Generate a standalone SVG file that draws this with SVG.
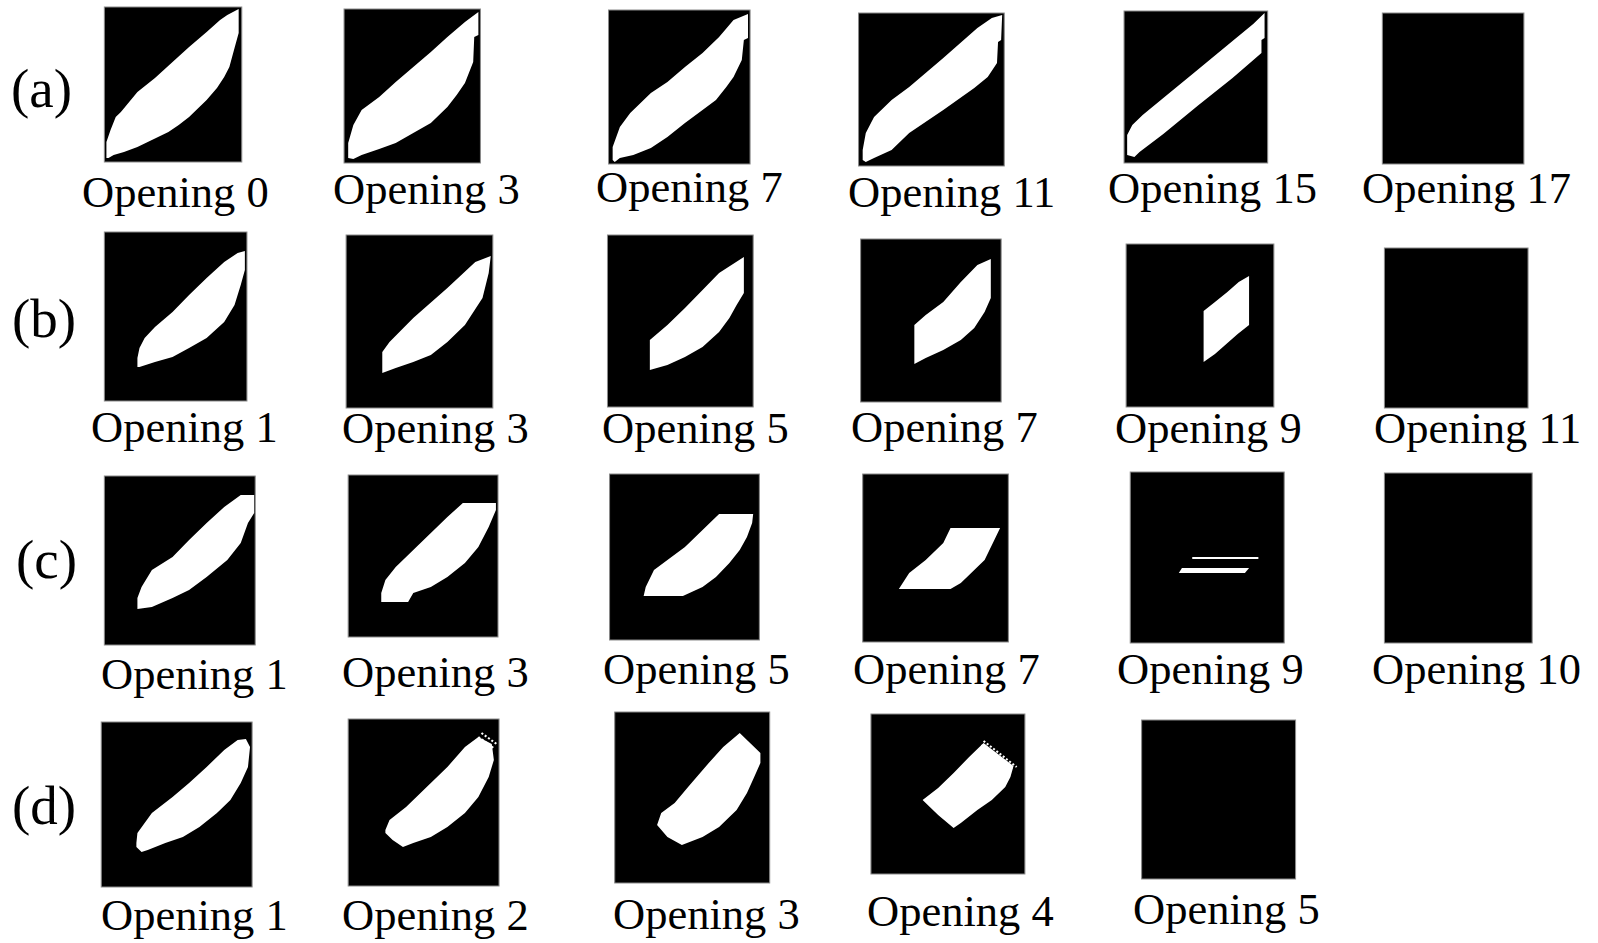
<svg xmlns="http://www.w3.org/2000/svg" width="1598" height="943" viewBox="0 0 1598 943">
<style>
.bx{fill:#000;stroke:#8a8a8a;stroke-width:1}
.sh{fill:#fff}
.lb{font-family:"Liberation Serif","Times New Roman",serif;font-size:44.5px;fill:#000}
.rl{font-family:"Liberation Serif","Times New Roman",serif;font-size:55px;fill:#000}
.chk{fill:none;stroke:#fff;stroke-width:2;stroke-dasharray:2 2}
</style>
<rect width="1598" height="943" fill="#fff"/>
<g id="row-labels">
<text class="rl" x="11" y="107">(a)</text>
<text class="rl" x="12" y="337">(b)</text>
<text class="rl" x="16" y="578">(c)</text>
<text class="rl" x="12" y="824">(d)</text>
</g>
<g id="a1"><g transform="matrix(1.0332 0 0 1 0 0)"><rect class="bx" x="101" y="7" width="133" height="155"/>
<polygon class="sh" points="103,158 103,142 107,130 112,117 117,112 133,92 150,78 167,62 183,47 200,32 213,20 220,15 231,9 231,33 227,48 222,67 217,77 210,88 200,100 193,107 183,117 173,125 163,132 153,137 143,142 133,147 120,152 110,155 105,158"/></g>
<text class="lb" x="82" y="207">Opening 0</text></g>
<g id="a2"><g transform="matrix(1.0332 0 0 1 0 0)"><rect class="bx" x="333" y="9" width="132" height="154"/>
<polygon class="sh" points="337,158 337,143 342,125 350,110 367,97 383,82 400,67 417,52 433,37 450,22 463,12 463,35 459,37 458,62 450,83 442,95 433,107 417,123 400,133 383,143 367,149 350,155 342,159"/></g>
<text class="lb" x="333" y="204">Opening 3</text></g>
<g id="a3"><g transform="matrix(1.0332 0 0 1 -17.6 0)"><rect class="bx" x="606" y="10" width="137" height="154"/>
<polygon class="sh" points="610,160 610,147 617,127 627,113 647,93 663,82 680,67 697,53 713,37 727,20 741,14 741,38 737,40 735,60 727,77 720,87 710,100 697,110 680,123 663,137 647,148 630,155 617,158 612,162"/></g>
<text class="lb" x="596" y="202">Opening 7</text></g>
<g id="a4"><g transform="matrix(1.0332 0 0 1 -17.6 0)"><rect class="bx" x="848" y="13" width="141" height="153"/>
<polygon class="sh" points="852,160 852,150 855,133 863,117 880,100 897,87 930,58 963,28 977,18 987,15 986,40 983,42 982,63 973,77 960,88 930,110 897,133 880,150 863,158 855,162"/></g>
<text class="lb" x="848" y="207">Opening 11</text></g>
<g id="a5"><g transform="matrix(1.0332 0 0 1 -35.2 0)"><rect class="bx" x="1122" y="11" width="139" height="152"/>
<polygon class="sh" points="1125,155 1125,135 1130,125 1140,115 1160,98 1193,70 1227,41 1247,24 1258,13 1258,38 1255,40 1255,53 1227,78 1193,106 1160,134 1137,152 1132,157"/></g>
<text class="lb" x="1108" y="203">Opening 15</text></g>
<g id="a6"><g transform="matrix(1.0332 0 0 1 -35.2 0)"><rect class="bx" x="1372" y="13" width="137" height="151"/></g>
<text class="lb" x="1362" y="203">Opening 17</text></g>

<g id="b1"><g transform="matrix(1.0332 0 0 1 0 0)"><rect class="bx" x="101" y="232" width="138" height="169"/>
<polygon class="sh" points="133,367 133,358 135,348 140,338 150,327 167,312 183,295 200,278 217,262 230,253 237,251 237,270 233,285 227,305 217,322 200,338 183,348 167,357 150,362 135,367"/></g>
<text class="lb" x="91" y="442">Opening 1</text></g>
<g id="b2"><g transform="matrix(1.0332 0 0 1 0 0)"><rect class="bx" x="335" y="235" width="142" height="173"/>
<polygon class="sh" points="370,373 370,352 377,342 400,318 433,288 460,262 475,256 473,273 467,298 450,325 433,342 417,355 400,362 383,368"/></g>
<text class="lb" x="342" y="443">Opening 3</text></g>
<g id="b3"><g transform="matrix(1.0332 0 0 1 -17.6 0)"><rect class="bx" x="605" y="235" width="141" height="172"/>
<polygon class="sh" points="646,370 646,340 663,325 680,308 697,290 713,273 737,257 737,293 730,305 723,318 713,332 697,347 680,357 663,365"/></g>
<text class="lb" x="602" y="443">Opening 5</text></g>
<g id="b4"><g transform="matrix(1.0332 0 0 1 -17.6 0)"><rect class="bx" x="850" y="239" width="136" height="163"/>
<polygon class="sh" points="902,364 902,325 913,315 930,302 947,282 963,265 976,259 976,298 970,312 960,328 947,340 930,350 913,358"/></g>
<text class="lb" x="851" y="442">Opening 7</text></g>
<g id="b5"><g transform="matrix(1.0332 0 0 1 -35.2 0)"><rect class="bx" x="1124" y="244" width="143" height="163"/>
<polygon class="sh" points="1199,362 1199,311 1210,302 1222,292 1233,282 1243,276 1243,325 1232,334 1221,344 1210,354"/></g>
<text class="lb" x="1115" y="443">Opening 9</text></g>
<g id="b6"><g transform="matrix(1.0332 0 0 1 -35.2 0)"><rect class="bx" x="1374" y="248" width="139" height="160"/></g>
<text class="lb" x="1374" y="443">Opening 11</text></g>

<g id="c1"><g transform="matrix(1.0332 0 0 1 0 0)"><rect class="bx" x="101" y="476" width="146" height="169"/>
<polygon class="sh" points="133,609 133,598 137,587 147,570 167,557 183,540 200,523 217,507 233,495 246,495 246,513 240,523 233,543 220,560 200,577 183,590 167,598 147,607"/></g>
<text class="lb" x="101" y="689">Opening 1</text></g>
<g id="c2"><g transform="matrix(1.0332 0 0 1 0 0)"><rect class="bx" x="337" y="475" width="145" height="162"/>
<polygon class="sh" points="369,602 369,593 373,580 383,567 400,550 417,533 433,517 448,503 480,503 480,510 473,527 463,547 450,563 433,577 417,587 400,593 395,602"/></g>
<text class="lb" x="342" y="687">Opening 3</text></g>
<g id="c3"><g transform="matrix(1.0332 0 0 1 -17.6 0)"><rect class="bx" x="607" y="474" width="145" height="166"/>
<polygon class="sh" points="640,596 642,587 650,570 663,560 680,547 697,530 713,514 746,514 745,523 740,537 733,550 723,563 710,577 697,587 678,596"/></g>
<text class="lb" x="603" y="684">Opening 5</text></g>
<g id="c4"><g transform="matrix(1.0332 0 0 1 -17.6 0)"><rect class="bx" x="852" y="474" width="141" height="168"/>
<polygon class="sh" points="887,589 897,573 913,560 930,543 937,528 985,528 978,543 970,560 957,573 947,583 937,589"/></g>
<text class="lb" x="853" y="684">Opening 7</text></g>
<g id="c5"><g transform="matrix(1.0332 0 0 1 -35.2 0)"><rect class="bx" x="1128" y="472" width="149" height="171"/>
<rect class="sh" x="1188" y="557" width="64" height="2"/>
<polygon class="sh" points="1178,568 1243,568 1239,573 1175,573"/></g>
<text class="lb" x="1117" y="684">Opening 9</text></g>
<g id="c6"><g transform="matrix(1.0332 0 0 1 -35.2 0)"><rect class="bx" x="1374" y="473" width="143" height="170"/></g>
<text class="lb" x="1372" y="684">Opening 10</text></g>

<g id="d1"><g transform="matrix(1.0332 0 0 1 0 0)"><rect class="bx" x="98" y="722" width="146" height="165"/>
<polygon class="sh" points="132,843 133,833 140,823 147,813 167,797 183,783 200,767 217,750 230,740 238,739 242,747 240,767 233,783 223,800 210,813 193,827 177,837 160,843 143,850 137,852 132,847"/></g>
<text class="lb" x="101" y="930">Opening 1</text></g>
<g id="d2"><g transform="matrix(1.0332 0 0 1 0 0)"><rect class="bx" x="337" y="719" width="146" height="167"/>
<polygon class="sh" points="373,830 377,820 393,807 417,783 433,767 450,747 463,737 476,744 478,760 473,777 463,797 450,813 433,827 417,837 400,843 390,847 380,840 373,833"/>
<path class="chk" d="M466,733 L482,745 M463,737 L479,749"/></g>
<text class="lb" x="342" y="930">Opening 2</text></g>
<g id="d3"><g transform="matrix(1.0332 0 0 1 -17.6 0)"><rect class="bx" x="612" y="712" width="150" height="171"/>
<polygon class="sh" points="733,733 753,753 753,763 747,777 740,793 730,810 713,827 697,837 677,845 663,837 653,825 657,813 670,803 683,787 703,763 717,747"/></g>
<text class="lb" x="613" y="929">Opening 3</text></g>
<g id="d4"><g transform="matrix(1.0332 0 0 1 -17.6 0)"><rect class="bx" x="860" y="714" width="149" height="160"/>
<polygon class="sh" points="969,743 998,766 995,777 990,787 977,800 963,810 947,823 940,828 925,815 910,800 925,788 940,773 955,757"/>
<path class="chk" d="M969,741 L1001,767 M967,745 L998,770"/></g>
<text class="lb" x="867" y="926">Opening 4</text></g>
<g id="d5"><g transform="matrix(1.0332 0 0 1 -35.2 0)"><rect class="bx" x="1139" y="720" width="149" height="159"/></g>
<text class="lb" x="1133" y="924">Opening 5</text></g>
</svg>
